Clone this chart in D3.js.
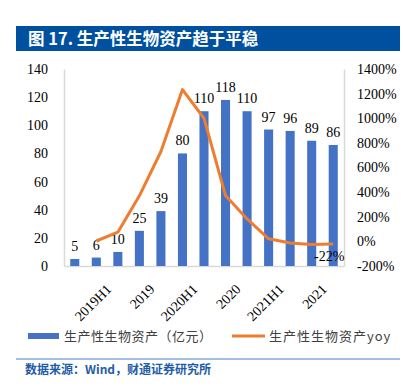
<!DOCTYPE html>
<html>
<head>
<meta charset="utf-8">
<script src="https://cdn.jsdelivr.net/npm/d3@7"></script>
<style>
  body { margin: 0; background: #fff; }
  svg { display: block; }
</style>
</head>
<body>
<svg id="chart"></svg>
<script>
// quarterly points, only every other one gets a label on the axis
const categories = ['2019Q1', '2019H1', '2019Q3', '2019', '2020Q1', '2020H1', '2020Q3',
    '2020', '2021Q1', '2021H1', '2021Q3', '2021', '2022Q1'];
const tickLabels = ['', '2019H1', '', '2019', '', '2020H1', '', '2020', '', '2021H1', '', '2021', ''];
const assets = [5, 6, 10, 25, 39, 80, 110, 118, 110, 97, 96, 89, 86];   // 亿元
const yoy = [null, 3, 75, 370, 730, 1233, 1000, 372, 182, 21, -13, -25, -22];  // %
const leftTicks = [0, 20, 40, 60, 80, 100, 120, 140];
const rightTicks = [-200, 0, 200, 400, 600, 800, 1000, 1200, 1400];

class ComboChart {
    constructor(_config) {
        this.config = {
            parentElement: _config.parentElement,
            containerWidth: _config.containerWidth || 403,
            containerHeight: _config.containerHeight || 388,
            margin: { top: 69, bottom: 122, right: 59, left: 64 }
        }
        this.initVis();
    }

    initVis() {
        let vis = this;
        vis.width = vis.config.containerWidth - vis.config.margin.left - vis.config.margin.right;
        vis.height = vis.config.containerHeight - vis.config.margin.top - vis.config.margin.bottom;

        vis.svg = d3.select(vis.config.parentElement)
            .attr('width', vis.config.containerWidth)
            .attr('height', vis.config.containerHeight);

        // title bar
        vis.svg.append('rect')
            .attr('x', 16).attr('y', 26)
            .attr('width', 384).attr('height', 25)
            .attr('fill', '#0050a0');
        vis.svg.append('text')
            .attr('x', 28).attr('y', 44.5)
            .attr('fill', '#fff')
            .style('font-family', '"Noto Sans CJK SC", sans-serif')
            .style('font-weight', 'bold')
            .style('font-size', '16.5px')
            .text('图 17. 生产性生物资产趋于平稳');

        vis.chart = vis.svg.append('g')
            .attr('transform', `translate(${vis.config.margin.left},${vis.config.margin.top})`);

        vis.updateVis();
    }

    updateVis() {
        let vis = this;

        vis.xScale = d3.scaleBand()
            .domain(categories)
            .range([0, vis.width])
            .paddingInner(0.58)
            .paddingOuter(0.29);
        vis.yScale = d3.scaleLinear().domain([0, 140]).range([vis.height, 0]);
        vis.y2Scale = d3.scaleLinear().domain([-200, 1400]).range([vis.height, 0]);

        const serif = '"Liberation Serif", "Times New Roman", serif';
        const axisColor = '#d9d9d9';

        // left axis
        let yAxisG = vis.chart.append('g')
            .attr('class', 'axis y-axis')
            .call(d3.axisLeft(vis.yScale).tickValues(leftTicks).tickSize(0).tickPadding(16));
        yAxisG.select('.domain').attr('stroke', axisColor).attr('stroke-width', 1.5);

        // right axis
        let y2AxisG = vis.chart.append('g')
            .attr('class', 'axis y2-axis')
            .attr('transform', `translate(${vis.width},0)`)
            .call(d3.axisRight(vis.y2Scale).tickValues(rightTicks).tickSize(0).tickPadding(13)
                .tickFormat(d => d + '%'));
        y2AxisG.select('.domain').attr('stroke', axisColor).attr('stroke-width', 1.5);

        // bottom axis
        let xAxisG = vis.chart.append('g')
            .attr('class', 'axis x-axis')
            .attr('transform', `translate(0,${vis.height})`)
            .call(d3.axisBottom(vis.xScale).tickSize(0).tickFormat((d, i) => tickLabels[i]));
        xAxisG.select('.domain').attr('stroke', axisColor).attr('stroke-width', 1.5);
        xAxisG.selectAll('text')
            .style('text-anchor', 'end')
            .attr('dx', '0.3em')
            .attr('dy', '0.9em')
            .attr('transform', 'translate(2,16) rotate(-45)');

        vis.svg.selectAll('.axis text')
            .style('font-family', serif)
            .style('font-size', '14px')
            .attr('fill', '#000');

        // bars
        vis.chart.selectAll('.bar')
            .data(assets)
            .enter()
            .append('rect')
            .attr('class', 'bar')
            .attr('fill', '#4472c4')
            .attr('x', (d, i) => vis.xScale(categories[i]))
            .attr('y', d => vis.yScale(d))
            .attr('width', vis.xScale.bandwidth())
            .attr('height', d => vis.height - vis.yScale(d));

        vis.chart.selectAll('.bar-label')
            .data(assets)
            .enter()
            .append('text')
            .attr('class', 'bar-label')
            .attr('x', (d, i) => vis.xScale(categories[i]) + vis.xScale.bandwidth() / 2)
            .attr('y', d => vis.yScale(d) - 8)
            .attr('text-anchor', 'middle')
            .style('font-family', serif)
            .style('font-size', '14px')
            .text(d => d);

        // yoy line
        let line = d3.line()
            .defined(d => d.v !== null)
            .x(d => vis.xScale(d.c) + vis.xScale.bandwidth() / 2)
            .y(d => vis.y2Scale(d.v));
        let lineData = yoy.map((v, i) => ({ c: categories[i], v: v }));

        vis.chart.append('path')
            .datum(lineData)
            .attr('fill', 'none')
            .attr('stroke', '#ed7d31')
            .attr('stroke-width', 3)
            .attr('stroke-linejoin', 'round')
            .attr('d', line);

        // only the last yoy point carries a label
        let last = lineData[lineData.length - 1];
        vis.chart.append('text')
            .attr('x', vis.xScale(last.c) + vis.xScale.bandwidth() / 2 - 4)
            .attr('y', vis.y2Scale(last.v) + 17)
            .attr('text-anchor', 'middle')
            .style('font-family', serif)
            .style('font-size', '14px')
            .text(last.v + '%');

        // legend
        let legend = vis.svg.append('g').attr('transform', 'translate(0,336)');
        const cjk = '"Noto Sans CJK SC", sans-serif';
        legend.append('rect')
            .attr('x', 28).attr('y', -3)
            .attr('width', 31).attr('height', 6)
            .attr('fill', '#4472c4');
        legend.append('text')
            .attr('x', 64).attr('y', 5)
            .style('font-family', cjk)
            .style('font-size', '13px')
            .style('letter-spacing', '0.5px')
            .attr('fill', '#404040')
            .text('生产性生物资产（亿元）');
        legend.append('line')
            .attr('x1', 232).attr('x2', 265)
            .attr('y1', 0).attr('y2', 0)
            .attr('stroke', '#ed7d31')
            .attr('stroke-width', 3);
        legend.append('text')
            .attr('x', 269).attr('y', 5)
            .style('font-family', cjk)
            .style('font-size', '13px')
            .style('letter-spacing', '1px')
            .attr('fill', '#404040')
            .text('生产性生物资产yoy');

        // source
        vis.svg.append('line')
            .attr('x1', 16).attr('x2', 400)
            .attr('y1', 359).attr('y2', 359)
            .attr('stroke', '#4a7fc1')
            .attr('stroke-width', 1);
        vis.svg.append('text')
            .attr('x', 25).attr('y', 374)
            .attr('fill', '#1f5ca8')
            .style('font-family', cjk)
            .style('font-weight', 'bold')
            .style('font-size', '12px')
            .text('数据来源：Wind，财通证券研究所');
    }
}

let chart = new ComboChart({ parentElement: '#chart' });
</script>
</body>
</html>
